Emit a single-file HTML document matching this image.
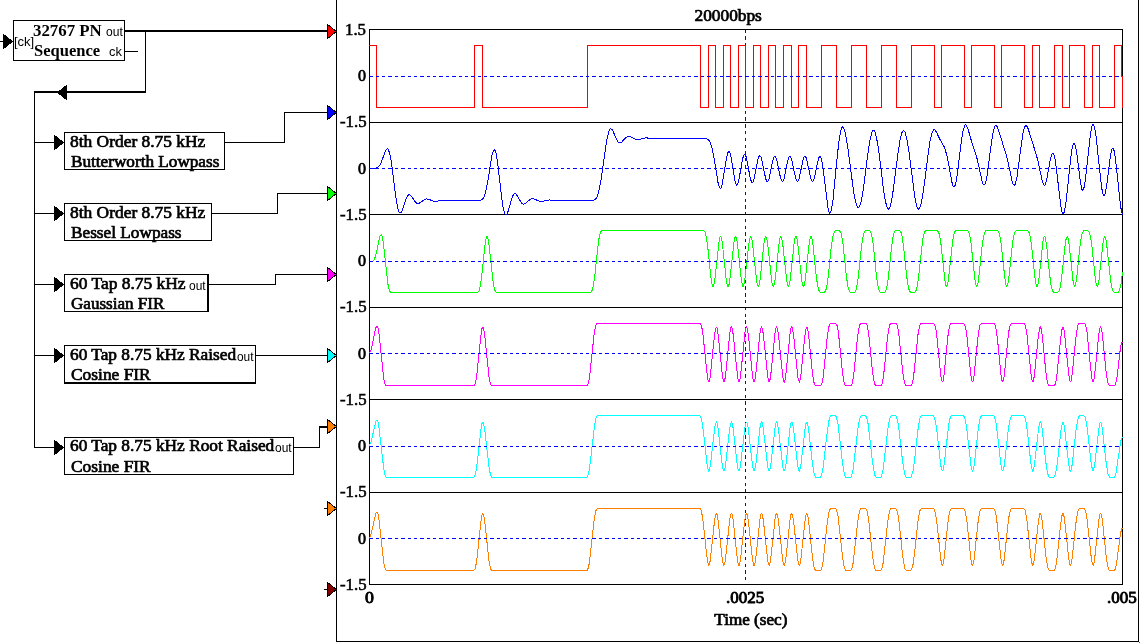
<!DOCTYPE html>
<html><head><meta charset="utf-8"><title>PN filters</title>
<style>html,body{margin:0;padding:0;background:#fff;overflow:hidden}svg{display:block}text{shape-rendering:auto}</style>
</head><body>
<svg width="1140" height="643" viewBox="0 0 1140 643" shape-rendering="crispEdges"><line x1="745.5" y1="29.6" x2="745.5" y2="584" stroke="#0000ff" stroke-width="1" stroke-dasharray="3.3 3.46"/>
<line x1="336.5" y1="0" x2="336.5" y2="642" stroke="#000" stroke-width="1"/>
<line x1="1138.5" y1="0" x2="1138.5" y2="642" stroke="#000" stroke-width="1"/>
<line x1="336" y1="641.5" x2="1139" y2="641.5" stroke="#000" stroke-width="1"/>
<rect x="1139" y="642" width="1" height="1" fill="#ff0000"/>
<rect x="369.5" y="29.5" width="753" height="555" fill="none" stroke="#000" stroke-width="1"/>
<line x1="369" y1="122.5" x2="1123" y2="122.5" stroke="#000" stroke-width="1"/>
<line x1="369" y1="214.5" x2="1123" y2="214.5" stroke="#000" stroke-width="1"/>
<line x1="369" y1="307.5" x2="1123" y2="307.5" stroke="#000" stroke-width="1"/>
<line x1="369" y1="399.5" x2="1123" y2="399.5" stroke="#000" stroke-width="1"/>
<line x1="369" y1="492.5" x2="1123" y2="492.5" stroke="#000" stroke-width="1"/>
<rect x="13.5" y="20.5" width="111" height="40" fill="none" stroke="#000" stroke-width="1"/>
<line x1="2.5" y1="41" x2="2.5" y2="42" stroke="#000" stroke-width="1"/>
<line x1="0" y1="41.5" x2="4" y2="41.5" stroke="#000" stroke-width="1"/>
<polygon points="3.5,34.5 12.5,41.5 3.5,48.5" fill="#000" stroke="#000" stroke-width="1"/>
<line x1="125" y1="30.5" x2="328" y2="30.5" stroke="#000" stroke-width="1"/>
<line x1="125" y1="31.5" x2="328" y2="31.5" stroke="#000" stroke-width="1"/>
<line x1="125" y1="51.5" x2="138" y2="51.5" stroke="#000" stroke-width="1"/>
<line x1="145.5" y1="30" x2="145.5" y2="93" stroke="#000" stroke-width="1"/>
<line x1="34" y1="91.5" x2="146" y2="91.5" stroke="#000" stroke-width="1"/>
<line x1="34" y1="92.5" x2="146" y2="92.5" stroke="#000" stroke-width="1"/>
<polygon points="66.5,85.5 57.5,92.5 66.5,99.5" fill="#000" stroke="#000" stroke-width="1"/>
<line x1="34.5" y1="91" x2="34.5" y2="448" stroke="#000" stroke-width="1"/>
<polygon points="327.5,24.5 336.5,31.5 327.5,38.5" fill="#ff0000" stroke="#000" stroke-width="1"/>
<rect x="64.5" y="132.5" width="160" height="37" fill="none" stroke="#000" stroke-width="1"/>
<line x1="35" y1="142.5" x2="55" y2="142.5" stroke="#000" stroke-width="1"/>
<polygon points="54.5,135.5 63.5,142.5 54.5,149.5" fill="#000" stroke="#000" stroke-width="1"/>
<line x1="225" y1="142.5" x2="285" y2="142.5" stroke="#000" stroke-width="1"/>
<line x1="284.5" y1="112" x2="284.5" y2="143" stroke="#000" stroke-width="1"/>
<line x1="284" y1="112.5" x2="328" y2="112.5" stroke="#000" stroke-width="1"/>
<polygon points="327.5,105.5 336.5,112.5 327.5,119.5" fill="#0000ff" stroke="#000" stroke-width="1"/>
<rect x="64.5" y="203.5" width="147" height="37" fill="none" stroke="#000" stroke-width="1"/>
<line x1="35" y1="213.5" x2="55" y2="213.5" stroke="#000" stroke-width="1"/>
<polygon points="54.5,206.5 63.5,213.5 54.5,220.5" fill="#000" stroke="#000" stroke-width="1"/>
<line x1="212" y1="213.5" x2="278" y2="213.5" stroke="#000" stroke-width="1"/>
<line x1="277.5" y1="193" x2="277.5" y2="214" stroke="#000" stroke-width="1"/>
<line x1="277" y1="193.5" x2="328" y2="193.5" stroke="#000" stroke-width="1"/>
<polygon points="327.5,186.5 336.5,193.5 327.5,200.5" fill="#00ff00" stroke="#000" stroke-width="1"/>
<rect x="64.5" y="274.5" width="144" height="37" fill="none" stroke="#000" stroke-width="1"/>
<line x1="35" y1="284.5" x2="55" y2="284.5" stroke="#000" stroke-width="1"/>
<polygon points="54.5,277.5 63.5,284.5 54.5,291.5" fill="#000" stroke="#000" stroke-width="1"/>
<line x1="209" y1="284.5" x2="276" y2="284.5" stroke="#000" stroke-width="1"/>
<line x1="275.5" y1="274" x2="275.5" y2="285" stroke="#000" stroke-width="1"/>
<line x1="275" y1="274.5" x2="328" y2="274.5" stroke="#000" stroke-width="1"/>
<polygon points="327.5,267.5 336.5,274.5 327.5,281.5" fill="#ff00ff" stroke="#000" stroke-width="1"/>
<rect x="64.5" y="345.5" width="191" height="37" fill="none" stroke="#000" stroke-width="1"/>
<line x1="35" y1="355.5" x2="55" y2="355.5" stroke="#000" stroke-width="1"/>
<polygon points="54.5,348.5 63.5,355.5 54.5,362.5" fill="#000" stroke="#000" stroke-width="1"/>
<line x1="256" y1="355.5" x2="328" y2="355.5" stroke="#000" stroke-width="1"/>
<polygon points="327.5,348.5 336.5,355.5 327.5,362.5" fill="#00ffff" stroke="#000" stroke-width="1"/>
<rect x="64.5" y="437.5" width="229" height="37" fill="none" stroke="#000" stroke-width="1"/>
<line x1="35" y1="447.5" x2="55" y2="447.5" stroke="#000" stroke-width="1"/>
<polygon points="54.5,440.5 63.5,447.5 54.5,454.5" fill="#000" stroke="#000" stroke-width="1"/>
<line x1="294" y1="447.5" x2="320" y2="447.5" stroke="#000" stroke-width="1"/>
<line x1="319.5" y1="426" x2="319.5" y2="448" stroke="#000" stroke-width="1"/>
<line x1="319" y1="426.5" x2="328" y2="426.5" stroke="#000" stroke-width="1"/>
<polygon points="327.5,419.5 336.5,426.5 327.5,433.5" fill="#ff8000" stroke="#000" stroke-width="1"/>
<line x1="319" y1="427.5" x2="328" y2="427.5" stroke="#000" stroke-width="1"/>
<line x1="207.5" y1="274" x2="207.5" y2="312" stroke="#000" stroke-width="1"/>
<line x1="64" y1="383.5" x2="256" y2="383.5" stroke="#000" stroke-width="1"/>
<polygon points="327.5,501.5 336.5,508.5 327.5,515.5" fill="#ff8000" stroke="#000" stroke-width="1"/>
<line x1="324" y1="508.5" x2="328" y2="508.5" stroke="#000" stroke-width="1"/>
<polygon points="327.5,582.5 336.5,589.5 327.5,596.5" fill="#800000" stroke="#000" stroke-width="1"/>
<line x1="324" y1="589.5" x2="328" y2="589.5" stroke="#000" stroke-width="1"/>
<text x="33" y="36" font-family="'Liberation Serif', serif" font-size="16" font-weight="bold" textLength="68.76" lengthAdjust="spacingAndGlyphs">32767 PN</text>
<text x="34" y="56" font-family="'Liberation Serif', serif" font-size="16" font-weight="bold" textLength="66.18" lengthAdjust="spacingAndGlyphs">Sequence</text>
<text x="106" y="36" font-family="'Liberation Sans', sans-serif" font-size="13" font-weight="normal" textLength="16.78" lengthAdjust="spacingAndGlyphs">out</text>
<text x="109" y="56" font-family="'Liberation Sans', sans-serif" font-size="13" font-weight="normal" textLength="12.84" lengthAdjust="spacingAndGlyphs">ck</text>
<text x="14" y="46" font-family="'Liberation Sans', sans-serif" font-size="13" font-weight="normal" textLength="20.23" lengthAdjust="spacingAndGlyphs">[ck]</text>
<text x="70" y="147" font-family="'Liberation Serif', serif" font-size="16" font-weight="normal" textLength="135.34" lengthAdjust="spacingAndGlyphs" stroke="#000" stroke-width="0.65">8th Order 8.75 kHz</text>
<text x="71" y="167" font-family="'Liberation Serif', serif" font-size="16" font-weight="normal" textLength="148.36" lengthAdjust="spacingAndGlyphs" stroke="#000" stroke-width="0.65">Butterworth Lowpass</text>
<text x="70" y="218" font-family="'Liberation Serif', serif" font-size="16" font-weight="normal" textLength="135.34" lengthAdjust="spacingAndGlyphs" stroke="#000" stroke-width="0.65">8th Order 8.75 kHz</text>
<text x="71" y="238" font-family="'Liberation Serif', serif" font-size="16" font-weight="normal" textLength="110.56" lengthAdjust="spacingAndGlyphs" stroke="#000" stroke-width="0.65">Bessel Lowpass</text>
<text x="70" y="289" font-family="'Liberation Serif', serif" font-size="16" font-weight="normal" textLength="115.57" lengthAdjust="spacingAndGlyphs" stroke="#000" stroke-width="0.65">60 Tap 8.75 kHz</text>
<text x="189" y="290" font-family="'Liberation Sans', sans-serif" font-size="13" font-weight="normal" textLength="16.67" lengthAdjust="spacingAndGlyphs">out</text>
<text x="71" y="309" font-family="'Liberation Serif', serif" font-size="16" font-weight="normal" textLength="93.34" lengthAdjust="spacingAndGlyphs" stroke="#000" stroke-width="0.65">Gaussian FIR</text>
<text x="70" y="360" font-family="'Liberation Serif', serif" font-size="16" font-weight="normal" textLength="166.07" lengthAdjust="spacingAndGlyphs" stroke="#000" stroke-width="0.65">60 Tap 8.75 kHz Raised</text>
<text x="237" y="361" font-family="'Liberation Sans', sans-serif" font-size="13" font-weight="normal" textLength="16.56" lengthAdjust="spacingAndGlyphs">out</text>
<text x="71" y="380" font-family="'Liberation Serif', serif" font-size="16" font-weight="normal" textLength="79.72" lengthAdjust="spacingAndGlyphs" stroke="#000" stroke-width="0.65">Cosine FIR</text>
<text x="70" y="451" font-family="'Liberation Serif', serif" font-size="16" font-weight="normal" textLength="204.24" lengthAdjust="spacingAndGlyphs" stroke="#000" stroke-width="0.65">60 Tap 8.75 kHz Root Raised</text>
<text x="275" y="452" font-family="'Liberation Sans', sans-serif" font-size="13" font-weight="normal" textLength="16.67" lengthAdjust="spacingAndGlyphs">out</text>
<text x="71" y="472" font-family="'Liberation Serif', serif" font-size="16" font-weight="normal" textLength="79.72" lengthAdjust="spacingAndGlyphs" stroke="#000" stroke-width="0.65">Cosine FIR</text>
<text x="694.5" y="21" font-family="'Liberation Serif', serif" font-size="16" font-weight="normal" textLength="67.37" lengthAdjust="spacingAndGlyphs" stroke="#000" stroke-width="0.7">20000bps</text>
<text x="345" y="35" font-family="'Liberation Serif', serif" font-size="16" font-weight="normal" textLength="20.96" lengthAdjust="spacingAndGlyphs" stroke="#000" stroke-width="0.55">1.5</text>
<text x="358" y="81" font-family="'Liberation Serif', serif" font-size="16" font-weight="normal" textLength="8" lengthAdjust="spacingAndGlyphs" stroke="#000" stroke-width="0.7">0</text>
<text x="340" y="127" font-family="'Liberation Serif', serif" font-size="16" font-weight="normal" textLength="26.54" lengthAdjust="spacingAndGlyphs" stroke="#000" stroke-width="0.55">-1.5</text>
<text x="358" y="174" font-family="'Liberation Serif', serif" font-size="16" font-weight="normal" textLength="8" lengthAdjust="spacingAndGlyphs" stroke="#000" stroke-width="0.7">0</text>
<text x="340" y="220" font-family="'Liberation Serif', serif" font-size="16" font-weight="normal" textLength="26.54" lengthAdjust="spacingAndGlyphs" stroke="#000" stroke-width="0.55">-1.5</text>
<text x="358" y="266" font-family="'Liberation Serif', serif" font-size="16" font-weight="normal" textLength="8" lengthAdjust="spacingAndGlyphs" stroke="#000" stroke-width="0.7">0</text>
<text x="340" y="312" font-family="'Liberation Serif', serif" font-size="16" font-weight="normal" textLength="26.54" lengthAdjust="spacingAndGlyphs" stroke="#000" stroke-width="0.55">-1.5</text>
<text x="358" y="359" font-family="'Liberation Serif', serif" font-size="16" font-weight="normal" textLength="8" lengthAdjust="spacingAndGlyphs" stroke="#000" stroke-width="0.7">0</text>
<text x="340" y="405" font-family="'Liberation Serif', serif" font-size="16" font-weight="normal" textLength="26.54" lengthAdjust="spacingAndGlyphs" stroke="#000" stroke-width="0.55">-1.5</text>
<text x="358" y="451" font-family="'Liberation Serif', serif" font-size="16" font-weight="normal" textLength="8" lengthAdjust="spacingAndGlyphs" stroke="#000" stroke-width="0.7">0</text>
<text x="340" y="497" font-family="'Liberation Serif', serif" font-size="16" font-weight="normal" textLength="26.54" lengthAdjust="spacingAndGlyphs" stroke="#000" stroke-width="0.55">-1.5</text>
<text x="358" y="544" font-family="'Liberation Serif', serif" font-size="16" font-weight="normal" textLength="8" lengthAdjust="spacingAndGlyphs" stroke="#000" stroke-width="0.7">0</text>
<text x="340" y="590" font-family="'Liberation Serif', serif" font-size="16" font-weight="normal" textLength="26.54" lengthAdjust="spacingAndGlyphs" stroke="#000" stroke-width="0.55">-1.5</text>
<text x="365" y="603" font-family="'Liberation Serif', serif" font-size="17" font-weight="normal" textLength="8.91" lengthAdjust="spacingAndGlyphs" stroke="#000" stroke-width="0.9">0</text>
<text x="726" y="603" font-family="'Liberation Serif', serif" font-size="17" font-weight="normal" textLength="38.25" lengthAdjust="spacingAndGlyphs" stroke="#000" stroke-width="0.9">.0025</text>
<text x="1107" y="603" font-family="'Liberation Serif', serif" font-size="17" font-weight="normal" textLength="29.75" lengthAdjust="spacingAndGlyphs" stroke="#000" stroke-width="0.9">.005</text>
<text x="714.3" y="625" font-family="'Liberation Serif', serif" font-size="16" font-weight="normal" textLength="73.11" lengthAdjust="spacingAndGlyphs" stroke="#000" stroke-width="0.7">Time (sec)</text>
<polyline fill="none" stroke="#ff0000" stroke-width="1" points="369.12,45.5 376.65,45.5 376.65,107.5 474.6,107.5 474.6,45.5 482.13,45.5 482.13,107.5 587.61,107.5 587.61,45.5 700.62,45.5 700.62,107.5 708.15,107.5 708.15,45.5 715.68,45.5 715.68,107.5 723.22,107.5 723.22,45.5 730.75,45.5 730.75,107.5 738.29,107.5 738.29,45.5 745.82,45.5 745.82,107.5 753.35,107.5 753.35,45.5 760.89,45.5 760.89,107.5 768.42,107.5 768.42,45.5 775.96,45.5 775.96,107.5 783.49,107.5 783.49,45.5 791.02,45.5 791.02,107.5 798.56,107.5 798.56,45.5 806.09,45.5 806.09,107.5 821.16,107.5 821.16,45.5 836.23,45.5 836.23,107.5 851.3,107.5 851.3,45.5 866.36,45.5 866.36,107.5 881.43,107.5 881.43,45.5 896.5,45.5 896.5,107.5 911.57,107.5 911.57,45.5 934.17,45.5 934.17,107.5 941.7,107.5 941.7,45.5 964.31,45.5 964.31,107.5 971.84,107.5 971.84,45.5 994.44,45.5 994.44,107.5 1001.98,107.5 1001.98,45.5 1024.58,45.5 1024.58,107.5 1032.11,107.5 1032.11,45.5 1039.65,45.5 1039.65,107.5 1054.71,107.5 1054.71,45.5 1062.25,45.5 1062.25,107.5 1069.78,107.5 1069.78,45.5 1084.85,45.5 1084.85,107.5 1092.38,107.5 1092.38,45.5 1099.92,45.5 1099.92,107.5 1114.99,107.5 1114.99,45.5 1121.92,45.5 1121.92,76.5 1122.82,76.5 1122.82,107.5"/>
<polyline fill="none" stroke="#0000ff" stroke-width="1" points="369.12,168.5 375.6,168.32 377.11,167.83 378.46,166.85 379.82,165.1 381.02,162.78 385.85,150.13 387.05,148.74 387.65,148.77 388.26,149.36 389.76,153.51 391.27,161.36 395.49,194.48 397.15,205.18 398.65,211.1 399.41,212.54 400.31,212.98 401.21,212.19 402.12,210.4 406.64,197.4 407.84,195.45 409.05,194.7 409.95,194.9 411.01,195.8 415.68,202.33 416.73,203.14 417.79,203.48 419.6,203.04 424.12,199.71 426.53,198.92 428.34,199.14 432.86,200.91 435.42,201.34 443.71,200.06 452.6,200.74 461.34,200.37 471.88,200.56 479.57,200.39 481.83,199.69 482.88,198.71 483.94,196.98 485.75,191.59 487.55,182.64 491.92,155.68 493.28,150.86 493.88,149.89 494.49,149.74 495.09,150.46 495.84,152.57 497.35,160.5 501.57,196.86 503.07,207.36 504.43,213.16 505.18,214.72 505.94,215.15 506.84,214.31 507.9,211.85 512.27,196.87 513.47,194.5 514.68,193.57 515.58,193.78 516.64,194.83 521.31,202.67 522.51,203.75 523.57,204.09 525.53,203.37 530.05,199.37 532.16,198.61 533.96,198.86 538.48,200.98 541.05,201.52 549.48,199.96 558.52,200.79 567.11,200.35 591.37,200.5 593.63,200.28 595.14,199.52 596.19,198.33 597.25,196.32 599.21,189.65 601.17,178.68 606.89,139.07 608.85,131.19 609.76,129.38 610.81,128.7 611.71,129.2 612.77,130.76 617.29,140.81 618.5,142.32 619.7,142.91 620.6,142.77 621.66,142.1 626.33,137.14 628.59,136.25 630.55,136.7 635.07,139.21 637.18,139.68 639.29,139.46 643.96,138.1 646.22,137.86 654.51,138.83 663.55,138.32 672.29,138.6 703.18,138.5 706.04,138.62 707.7,139.15 709.05,140.36 710.11,142.11 712.07,148.03 714.03,157.82 717.94,182.18 719.15,186.93 720.2,188.58 721.11,187.86 722.16,184.59 726.68,157.04 727.74,152.93 728.79,151.34 729.7,152.18 730.6,154.96 734.97,180.55 736.03,184.27 736.93,185.25 737.68,184.41 738.59,181.54 742.51,159.36 743.56,155.52 744.46,154.13 744.92,154.17 745.37,154.7 746.27,157.11 750.34,178.38 751.4,181.86 752.3,182.83 753.05,182.12 753.96,179.55 757.72,160.4 758.78,156.93 759.68,155.71 760.59,156.3 761.49,158.6 765.56,178.2 766.46,180.89 767.37,181.82 768.12,181.15 769.02,178.72 772.79,160.54 773.7,157.61 774.6,156.23 775.05,156.19 775.5,156.58 776.56,159.1 780.48,177.67 781.53,180.81 782.44,181.64 783.19,180.91 784.09,178.44 787.86,160.4 788.76,157.54 789.67,156.22 790.57,156.63 791.48,158.71 795.54,177.79 796.6,180.89 797.5,181.68 798.26,180.92 799.16,178.42 802.78,160.93 803.68,157.85 804.43,156.42 805.04,156.12 805.49,156.41 806.54,158.7 810.61,177.84 811.67,180.94 812.57,181.72 813.48,180.65 814.38,177.87 818.3,159.25 819.2,156.97 819.65,156.48 820.11,156.47 820.71,157.22 821.46,159.42 822.82,166.56 827.79,206.73 829,211.9 829.6,213.04 830.05,213.2 830.65,212.49 831.41,210.1 832.91,200.75 837.43,154.43 839.39,138.06 841.05,129.63 841.8,127.69 842.71,126.91 843.46,127.49 844.36,129.54 846.17,137.42 848.28,151.22 853.71,192.33 855.52,201.76 857.17,206.6 858.23,207.61 859.28,206.94 860.34,204.6 861.54,199.92 863.65,187.16 867.72,154.9 869.68,141.73 871.64,133.07 872.69,130.79 873.6,130.26 874.5,131.08 875.56,133.69 877.51,142.89 879.62,157.68 883.39,188.62 885.2,200.32 886.86,206.99 887.76,208.74 888.51,209.13 889.42,208.34 890.32,206.18 892.28,197.2 898.01,153.06 900.12,139.68 901.92,132.63 902.83,130.95 903.58,130.53 904.34,131.01 905.24,132.76 907.05,139.88 909.16,153.26 914.88,197.55 916.84,206.4 917.75,208.43 918.65,209.08 919.4,208.56 920.31,206.68 921.96,199.86 923.77,188.19 929.5,143.88 931.61,133.82 932.51,131.37 933.57,129.92 934.17,129.72 934.77,129.92 936.13,131.55 940.2,139.95 943.81,146.11 945.17,149.29 947.58,158.5 951.95,182.26 953,185.75 953.61,186.74 954.06,186.95 954.66,186.46 955.42,184.61 956.77,177.95 961.29,141.76 962.95,131.3 964.61,125.69 965.36,124.88 966.26,125.22 968.07,129.23 971.84,142.46 976.66,157.02 982.24,181.65 983.29,184.35 984.2,185.05 984.95,184.32 985.55,182.83 986.91,176.66 991.43,142.49 993.09,132.25 994.59,126.83 995.35,125.67 996.25,125.58 997.3,127 998.36,129.67 1006.04,154.35 1008.15,162.5 1012.07,180.84 1013.13,183.98 1014.18,185.18 1014.93,184.63 1015.54,183.3 1017.04,176.58 1021.56,142.38 1023.22,132.2 1024.58,127.19 1025.33,125.85 1026.08,125.51 1027.14,126.52 1028.35,129.31 1036.18,154.31 1038.29,162.46 1042.06,180.27 1042.96,183.27 1043.87,184.97 1044.47,185.24 1045.07,184.78 1046.43,181.07 1050.04,161.18 1051.4,155.41 1052.6,153.21 1053.21,153.39 1053.66,154.13 1054.86,158.53 1056.07,166.05 1060.74,205.61 1061.95,211.53 1062.55,213.1 1063.15,213.67 1063.75,213.21 1064.51,211.19 1065.86,203.79 1070.69,158.37 1071.89,149.75 1072.95,144.99 1073.7,143.48 1074.3,143.47 1074.91,144.53 1075.66,147.24 1077.01,155.38 1080.78,184.45 1081.99,189.39 1082.59,190.24 1083.04,190.11 1084.1,187.25 1085.3,179.95 1090.58,132.76 1091.93,126.08 1092.53,124.66 1093.14,124.25 1093.74,124.86 1094.49,127.03 1095.85,134.52 1100.97,182.03 1102.03,189.57 1102.93,193.74 1103.53,195.18 1104.14,195.49 1104.74,194.68 1105.49,192.15 1106.85,184.01 1110.62,154.69 1111.97,148.99 1112.58,148.06 1113.18,148.22 1114.23,151.1 1115.44,158.11 1120.11,202.27 1121.31,210.48 1122.52,214.94"/>
<polyline fill="none" stroke="#00ff00" stroke-width="1" points="369.12,261.5 372.74,261.23 373.64,260.55 374.54,259.04 376.05,254.15 379.52,237.78 380.42,235.24 381.17,234.63 381.78,235.41 382.23,236.81 383.28,242.8 387.8,283.53 389.16,289.66 389.91,291.41 390.82,292.42 391.87,292.7 395.04,292.41 477.31,292.41 478.36,291.82 479.12,290.59 480.47,285.29 481.83,275.18 485.14,243.82 486.2,238.05 486.65,236.85 487.1,236.53 488.01,238.56 488.91,243.94 493.28,283.57 494.79,290.11 495.54,291.65 496.44,292.49 589.87,292.47 591.07,292.09 591.83,291.2 593.33,286.11 594.69,276.52 598.61,240.47 600.11,233.36 601.02,231.35 601.92,230.49 602.82,230.29 605.99,230.59 702.73,230.52 703.93,230.82 704.84,231.8 706.34,236.89 707.7,246.48 711.01,278.06 712.07,284.37 712.97,286.46 713.42,286.19 713.88,285.02 714.93,279.06 719,241.7 719.9,237.48 720.66,236.49 721.41,237.97 722.31,242.86 726.08,278.14 726.99,283.78 727.89,286.4 728.34,286.41 728.79,285.52 729.7,281.17 733.77,243.74 734.82,237.98 735.27,236.8 735.72,236.5 736.48,237.98 737.38,242.86 741,276.95 741.9,283.03 742.66,285.9 743.11,286.5 743.56,286.21 744.61,282.11 748.83,243.74 749.89,237.98 750.34,236.8 750.79,236.5 751.7,238.57 752.6,243.96 756.67,281.29 757.72,285.9 758.18,286.5 758.63,286.21 759.38,283.75 760.29,277.86 764.05,242.69 764.96,237.98 765.41,236.8 765.86,236.5 766.76,238.57 767.67,243.96 771.74,281.29 772.64,285.51 773.09,286.4 773.55,286.41 774.45,283.75 775.35,277.86 779.12,242.69 780.02,237.98 780.48,236.8 780.93,236.5 781.83,238.57 782.74,243.96 786.65,280.31 787.56,285.02 788.01,286.2 788.46,286.5 789.37,284.43 790.27,279.04 794.19,242.69 795.09,237.98 795.54,236.8 796,236.5 796.9,238.57 797.8,243.96 801.72,280.31 802.63,285.02 803.08,286.2 803.53,286.5 804.43,284.43 805.34,279.04 809.26,242.69 810.16,237.98 810.61,236.8 811.06,236.5 811.97,238.57 812.87,243.96 816.04,274.45 817.54,285.3 819.2,291.14 820.26,292.4 821.61,292.68 823.87,292.34 824.78,291.89 825.68,290.54 826.43,288.2 828.09,277.83 830.95,249.95 832.46,238.61 833.37,234.36 834.27,231.86 835.32,230.57 836.68,230.3 838.94,230.66 839.84,231.12 840.75,232.47 841.5,234.8 843.16,245.17 846.02,273.05 847.53,284.39 848.43,288.64 849.34,291.14 850.39,292.43 851.75,292.7 854.01,292.34 854.91,291.88 855.82,290.53 856.57,288.2 858.23,277.83 861.09,249.95 862.6,238.61 863.5,234.36 864.41,231.86 865.46,230.57 866.82,230.3 869.08,230.66 869.98,231.12 870.88,232.47 871.64,234.8 873.3,245.17 876.16,273.05 877.66,284.39 878.57,288.64 879.47,291.14 880.53,292.43 881.88,292.7 884.14,292.34 885.05,291.88 885.95,290.53 886.71,288.2 888.36,277.83 891.23,249.95 892.73,238.61 893.64,234.36 894.54,231.86 895.6,230.57 896.95,230.3 899.21,230.66 900.12,231.12 901.02,232.47 901.77,234.8 903.43,245.17 906.29,273.05 907.8,284.39 908.71,288.64 909.61,291.14 910.66,292.43 911.87,292.71 914.28,292.34 915.34,291.74 916.24,290.17 916.99,287.56 918.5,277.83 922.57,240.46 924.07,233.35 924.98,231.35 925.88,230.49 926.79,230.29 929.65,230.58 936.73,230.56 937.94,231.19 938.84,232.79 939.9,236.89 940.95,243.95 944.87,280.23 945.77,284.95 946.22,286.15 946.68,286.47 947.58,284.44 948.48,279.06 952.85,239.43 954.21,233.32 954.96,231.59 955.72,230.7 956.92,230.31 966.87,230.56 968.07,231.19 968.98,232.79 970.03,236.89 971.09,243.95 975,280.23 975.91,284.95 976.36,286.15 976.81,286.47 977.57,285.02 978.47,280.16 982.24,244.73 983.29,237.69 984.5,232.89 985.55,230.97 986.76,230.33 996.55,230.51 998.21,231.19 999.41,233.68 1000.62,239.55 1004.84,278.06 1005.89,284.37 1006.5,286.15 1006.95,286.47 1007.7,285.02 1008.61,280.16 1012.37,244.73 1013.43,237.69 1014.48,233.32 1015.54,231.15 1016.74,230.36 1026.54,230.51 1027.89,230.82 1028.8,231.81 1030.3,236.89 1031.66,246.48 1034.97,278.06 1036.03,284.37 1036.93,286.46 1037.39,286.19 1037.84,285.02 1038.89,279.06 1042.96,241.7 1044.02,237.09 1044.62,236.49 1045.07,237.08 1046.58,245.14 1049.59,274.45 1050.95,284.46 1051.85,288.68 1052.76,291.14 1053.81,292.4 1055.02,292.69 1057.43,292.34 1058.48,291.74 1059.39,290.18 1060.29,286.87 1061.8,276.54 1065.11,244.93 1066.17,238.62 1067.07,236.53 1067.52,236.81 1067.97,237.98 1069.03,243.94 1073.1,281.3 1074.15,285.91 1074.75,286.51 1075.21,285.92 1076.71,277.86 1079.73,248.55 1081.08,238.54 1081.99,234.32 1082.89,231.86 1083.95,230.6 1085.15,230.31 1087.56,230.66 1088.62,231.26 1089.52,232.82 1090.43,236.13 1091.93,246.46 1095.25,278.07 1096.15,283.71 1097.06,286.36 1097.51,286.39 1097.96,285.51 1098.86,281.19 1102.78,244.86 1103.84,238.55 1104.74,236.49 1105.49,237.48 1106.4,241.83 1110.47,279.43 1111.67,286.81 1113.03,291.14 1114.08,292.4 1115.29,292.69 1118.15,292.18 1119.36,290.86 1120.86,285.29 1122.52,272.41"/>
<polyline fill="none" stroke="#ff00ff" stroke-width="1" points="369.12,353.27 370.17,352.04 371.23,349.3 375.45,329.36 376.35,326.52 377.11,325.89 378.16,328.52 379.22,335.23 383.59,377.59 384.64,382.95 385.85,385.29 386.75,385.5 473.84,385.47 474.6,385 475.2,383.86 476.4,378.57 480.92,335.23 481.98,328.68 482.43,327.32 482.88,326.97 483.79,329.35 484.84,336.46 489.06,377.59 490.27,383.44 490.87,384.79 491.47,385.38 586.7,385.49 587.61,385 588.21,383.86 589.41,378.57 594.24,332.95 595.59,325.89 596.19,324.4 596.95,323.61 699.71,323.51 700.62,323.97 701.37,325.43 702.73,331.9 706.94,372.99 707.85,379.26 708.6,381.68 708.9,381.8 709.36,381.06 710.26,376.51 714.33,336.46 715.38,329.35 716.29,326.97 716.74,327.32 717.19,328.68 718.25,335.23 722.46,376.51 723.37,381.06 723.82,381.8 724.27,381.43 725.03,378.44 725.93,371.68 729.7,334.06 730.6,328.68 731.05,327.32 731.51,326.97 732.41,329.35 733.46,336.46 737.53,376.51 738.29,380.58 739.04,381.8 739.94,379.26 740.85,372.99 744.92,332.95 745.82,328.12 746.57,326.97 747.48,329.35 748.53,336.46 752.6,376.51 753.35,380.58 754.11,381.8 755.01,379.26 755.92,372.99 759.98,332.95 760.89,328.12 761.64,326.97 762.55,329.35 763.6,336.46 767.67,376.51 768.42,380.58 769.18,381.8 770.08,379.26 770.98,372.99 775.05,332.95 775.96,328.12 776.71,326.97 777.61,329.35 778.67,336.46 782.74,376.51 783.49,380.58 784.24,381.8 785.15,379.26 786.05,372.99 790.12,332.95 791.02,328.12 791.78,326.97 792.68,329.35 793.74,336.46 797.8,376.51 798.56,380.58 799.31,381.8 800.22,379.26 801.12,372.99 805.19,332.95 806.09,328.12 806.85,326.97 807.75,329.35 808.65,335.23 812.27,371.68 813.78,381.77 814.53,384.23 815.43,385.38 820.26,385.49 821.16,385 821.76,383.86 823.12,377.59 827.19,337.74 828.84,327 829.6,324.69 830.5,323.61 835.32,323.51 836.23,323.97 836.98,325.43 838.34,331.9 842.41,371.68 844.06,382.39 844.82,384.54 845.57,385.38 850.54,385.49 851.45,385 852.05,383.86 853.41,377.59 857.47,337.74 859.13,327 859.88,324.69 860.79,323.61 865.46,323.51 866.36,323.97 867.12,325.43 868.47,331.9 872.54,371.68 874.2,382.39 874.95,384.54 875.71,385.38 880.53,385.49 881.43,385 882.03,383.86 883.39,377.59 887.46,337.74 889.12,327 889.87,324.69 890.77,323.61 895.6,323.51 896.5,323.97 897.25,325.43 898.61,331.9 902.68,371.68 904.34,382.39 905.09,384.54 905.84,385.38 910.66,385.49 911.57,385 912.17,383.86 913.38,378.57 918.05,334.06 919.4,326.42 920.01,324.69 920.76,323.7 933.42,323.52 934.17,323.97 934.92,325.43 935.83,329.15 936.88,336.46 940.8,375.42 941.55,379.97 942.31,381.8 943.06,380.58 943.96,375.42 947.88,336.46 948.94,329.15 949.99,325.03 950.59,323.97 951.5,323.51 963.25,323.5 964.31,323.97 965.51,327 966.57,332.95 970.79,374.24 971.69,379.97 972.14,381.43 972.59,381.8 973.35,379.97 974.1,375.42 978.02,336.46 979.07,329.15 979.98,325.43 980.73,323.97 981.48,323.52 993.54,323.51 994.44,323.97 995.04,325.03 996.4,330.92 997.76,341.89 1000.92,374.24 1001.83,379.97 1002.28,381.43 1002.73,381.8 1003.48,379.97 1004.24,375.42 1008.15,336.46 1009.21,329.15 1010.11,325.43 1010.87,323.97 1011.62,323.52 1023.67,323.51 1024.58,323.97 1025.33,325.43 1026.69,331.9 1030.91,372.99 1031.66,378.44 1032.41,381.43 1032.87,381.8 1033.32,381.06 1034.22,376.51 1038.44,335.23 1039.5,328.68 1039.95,327.32 1040.4,326.97 1041.3,329.35 1042.21,335.23 1045.82,371.68 1047.33,381.77 1048.08,384.23 1048.99,385.38 1053.66,385.5 1054.56,385.17 1055.32,383.86 1056.67,377.59 1060.74,337.74 1061.65,330.98 1062.55,327.32 1063,326.97 1063.45,327.66 1064.36,331.92 1068.73,374.24 1069.63,379.97 1070.08,381.43 1070.54,381.8 1071.29,379.97 1072.19,374.24 1075.66,339.08 1077.32,327.65 1078.07,325.03 1078.97,323.7 1083.95,323.51 1084.85,323.97 1085.6,325.43 1086.96,331.9 1091.18,372.99 1091.93,378.44 1092.69,381.43 1093.14,381.8 1093.59,381.06 1094.49,376.51 1098.71,335.23 1099.77,328.68 1100.22,327.32 1100.67,326.97 1101.58,329.35 1102.48,335.23 1106.1,371.68 1107.6,381.77 1108.36,384.23 1109.26,385.38 1113.93,385.5 1114.68,385.29 1115.29,384.54 1116.34,381.07 1117.4,374.25 1120.41,348.08 1121.47,343.25 1121.92,342.36 1122.52,342.25"/>
<polyline fill="none" stroke="#00ffff" stroke-width="1" points="369.12,445.8 370.33,443.78 371.53,440.07 375.6,422.07 376.35,420.27 376.96,419.99 378.01,422.39 379.06,428.43 383.74,468.76 385.09,474.97 385.69,476.4 386.45,477.28 387.5,477.5 473.24,477.46 474.14,476.86 474.9,475.39 476.25,469.66 477.61,459.8 481.08,428.5 481.98,423.59 482.43,422.37 482.88,422.06 483.79,424.19 484.69,429.59 489.21,468.76 490.57,474.97 491.32,476.65 492.07,477.36 586.1,477.48 587,477.03 587.76,475.77 589.11,470.51 590.47,461.07 594.54,425.2 595.89,418.51 596.65,416.6 597.4,415.72 598.45,415.5 698.96,415.5 700.01,415.97 700.77,417.23 702.27,423.34 703.63,433.2 706.94,463.41 707.85,468.81 708.75,470.94 709.51,469.92 710.41,465.52 714.48,429.59 715.38,424.19 716.29,422.06 717.04,423.08 717.94,427.48 722.01,463.41 722.92,468.81 723.82,470.94 724.57,469.92 725.48,465.52 729.55,429.59 730.45,424.19 731.35,422.06 732.11,423.08 733.01,427.48 737.08,463.41 737.98,468.81 738.74,470.84 739.19,470.84 739.64,469.92 740.55,465.52 744.61,429.59 745.52,424.19 746.42,422.06 746.87,422.37 747.33,423.59 748.23,428.5 752.6,466.46 753.66,470.63 754.11,470.94 754.56,470.32 756.07,462.26 759.83,428.5 760.74,423.59 761.49,422.06 761.94,422.37 762.39,423.59 763.3,428.5 767.67,466.46 768.57,470.32 769.02,470.94 769.33,470.84 770.08,468.81 770.98,463.41 775.05,427.48 775.81,423.59 776.56,422.06 777.01,422.37 777.46,423.59 778.37,428.5 782.74,466.46 783.64,470.32 784.09,470.94 784.39,470.84 785.15,468.81 786.05,463.41 790.12,427.48 791.02,423.08 791.78,422.06 792.68,424.19 793.59,429.59 797.65,465.52 798.56,469.92 799.31,470.94 800.22,468.81 801.12,463.41 805.19,427.48 806.09,423.08 806.85,422.06 807.6,423.59 808.5,428.5 812.27,462.3 813.93,472.74 814.83,475.77 815.74,477.17 816.49,477.48 819.5,477.5 820.56,477.03 821.31,475.77 822.97,468.76 827.34,430.7 829.15,419.63 829.9,417.23 830.8,415.83 831.56,415.52 834.57,415.5 835.63,415.97 836.38,417.23 838.04,424.24 842.41,462.3 844.21,473.37 844.97,475.77 845.87,477.17 846.62,477.48 849.79,477.5 850.84,477.03 851.6,475.77 853.25,468.76 857.62,430.7 859.43,419.63 860.19,417.23 861.09,415.83 861.84,415.52 864.71,415.5 865.76,415.97 866.51,417.23 868.17,424.24 872.54,462.3 874.35,473.37 875.1,475.77 876.01,477.17 876.76,477.48 879.77,477.5 880.83,477.03 881.58,475.77 883.24,468.76 887.61,430.7 889.42,419.63 890.17,417.23 891.08,415.83 891.83,415.52 894.84,415.5 895.9,415.97 896.65,417.23 898.31,424.24 902.68,462.3 904.49,473.37 905.24,475.77 906.14,477.17 906.9,477.48 909.91,477.5 910.81,477.17 911.57,476.11 913.07,470.51 914.43,461.07 918.5,425.2 919.86,418.51 920.61,416.6 921.36,415.72 922.27,415.5 932.66,415.52 933.72,416.14 934.47,417.61 935.53,421.69 936.58,428.36 940.65,464.5 941.55,469.41 942.31,470.94 942.76,470.63 943.21,469.41 944.11,464.5 948.79,424.24 949.99,418.51 951.2,415.97 952.25,415.5 962.8,415.52 963.85,416.14 964.61,417.61 965.66,421.69 966.72,428.36 970.94,465.52 971.84,469.92 972.59,470.94 973.35,469.41 974.25,464.5 978.32,428.36 979.37,421.69 980.43,417.61 981.18,416.14 982.24,415.52 992.63,415.5 993.54,415.72 994.29,416.6 994.89,418.03 996.25,424.24 1000.92,464.5 1001.83,469.41 1002.28,470.63 1002.73,470.94 1003.48,469.41 1004.39,464.5 1008.46,428.36 1009.51,421.69 1010.56,417.61 1011.32,416.14 1012.22,415.54 1022.92,415.5 1023.98,415.97 1024.73,417.23 1026.24,423.34 1027.59,433.2 1030.76,462.26 1032.26,470.32 1032.71,470.94 1033.17,470.63 1034.22,466.46 1038.59,428.5 1039.5,423.59 1039.95,422.37 1040.4,422.06 1041.15,423.59 1042.06,428.5 1045.82,462.3 1047.48,472.74 1048.39,475.77 1049.29,477.17 1050.04,477.48 1053.06,477.5 1054.11,477.03 1054.86,475.77 1056.37,469.66 1057.73,459.8 1060.89,430.74 1062.4,422.68 1062.85,422.06 1063.3,422.37 1064.36,426.54 1068.73,464.5 1069.63,469.41 1070.08,470.63 1070.54,470.94 1071.29,469.41 1072.19,464.5 1075.96,430.7 1077.62,420.26 1078.52,417.23 1079.43,415.83 1080.18,415.52 1083.19,415.5 1084.25,415.97 1085,417.23 1086.51,423.34 1087.86,433.2 1091.03,462.26 1092.53,470.32 1092.99,470.94 1093.44,470.63 1094.49,466.46 1098.86,428.5 1099.77,423.59 1100.22,422.37 1100.67,422.06 1101.42,423.59 1102.33,428.5 1106.1,462.3 1107.75,472.74 1108.66,475.77 1109.56,477.17 1110.31,477.48 1113.18,477.5 1114.08,477.28 1114.84,476.4 1116.04,472.74 1120.41,443.08 1121.47,438.53 1122.52,436.83"/>
<polyline fill="none" stroke="#ff8000" stroke-width="1" points="369.12,538.07 370.17,536.62 371.23,533.79 375.45,514.85 376.2,512.57 376.96,511.81 377.56,512.58 378.01,514.01 379.06,520.06 383.74,562.49 384.94,568.15 386.15,570.28 387.05,570.5 473.54,570.47 474.29,570.01 475.05,568.59 476.25,563.42 477.46,554.38 480.92,521.19 481.98,514.97 482.43,513.69 482.88,513.36 483.79,515.6 484.69,521.19 489.21,562.49 490.42,568.15 491.02,569.58 491.77,570.37 586.4,570.49 587.15,570.16 587.91,568.97 589.26,563.42 594.24,518.95 595.59,511.68 596.35,509.62 597.1,508.71 598,508.5 699.41,508.51 700.31,508.96 701.07,510.29 702.57,516.93 706.94,556.96 707.85,562.93 708.6,565.2 708.9,565.31 709.36,564.62 710.26,560.32 714.48,521.19 715.38,515.6 716.29,513.36 716.74,513.69 717.19,514.97 718.09,520.07 722.01,556.96 722.92,562.93 723.67,565.2 723.97,565.31 724.42,564.62 725.33,560.32 729.55,521.19 730.45,515.6 731.35,513.36 731.81,513.69 732.26,514.97 733.16,520.07 737.08,556.96 737.83,562.15 738.59,564.96 739.04,565.31 739.49,564.62 740.4,560.32 744.61,521.19 745.67,514.97 746.12,513.69 746.57,513.36 747.48,515.6 748.38,521.19 752.6,560.32 753.5,564.62 753.96,565.31 754.26,565.2 755.01,562.93 755.92,556.96 759.83,520.07 760.74,514.97 761.19,513.69 761.64,513.36 762.55,515.6 763.45,521.19 767.67,560.32 768.42,564.16 769.18,565.31 769.93,563.6 770.83,558.16 775.05,519.02 775.96,514.44 776.71,513.36 777.61,515.6 778.52,521.19 782.74,560.32 783.49,564.16 784.24,565.31 785,563.6 785.9,558.16 790.12,519.02 791.02,514.44 791.78,513.36 792.68,515.6 793.59,521.19 797.8,560.32 798.56,564.16 799.31,565.31 800.06,563.6 800.97,558.16 805.19,519.02 806.09,514.44 806.85,513.36 807.75,515.6 808.65,521.19 812.27,555.7 813.93,566.49 814.68,568.97 815.58,570.28 819.8,570.5 820.71,570.16 821.46,568.97 822.97,562.49 827.19,523.61 829,512.26 829.75,509.93 830.65,508.71 835.02,508.51 835.93,508.96 836.68,510.29 838.19,516.93 842.41,555.7 844.06,566.49 844.82,568.97 845.72,570.28 850.09,570.5 850.99,570.16 851.75,568.97 853.25,562.49 857.47,523.61 859.28,512.26 860.04,509.93 860.94,508.71 865.16,508.51 866.06,508.96 866.82,510.29 868.32,516.93 872.54,555.7 874.2,566.49 874.95,568.97 875.86,570.28 880.08,570.5 880.98,570.16 881.73,568.97 883.24,562.49 887.46,523.61 889.27,512.26 890.02,509.93 890.92,508.71 895.14,508.5 896.2,508.96 896.95,510.29 898.46,516.93 902.68,555.7 904.34,566.49 905.09,568.97 905.99,570.28 910.21,570.5 911.12,570.16 911.72,569.3 913.07,564.28 914.43,554.38 918.2,518.95 919.55,511.68 920.31,509.62 921.06,508.71 932.96,508.51 933.87,508.96 934.62,510.29 935.68,514.33 936.88,522.37 940.8,559.28 941.55,563.6 942.31,565.31 942.76,564.96 943.21,563.6 944.11,558.16 948.48,517.91 949.69,511.68 950.9,508.96 951.95,508.5 963.1,508.51 964,508.96 964.76,510.29 965.81,514.33 967.02,522.37 970.94,559.28 971.84,564.16 972.59,565.31 973.35,563.6 974.1,559.28 978.02,522.37 979.22,514.33 980.28,510.29 981.03,508.96 981.94,508.51 993.84,508.71 994.59,509.62 995.2,511.16 996.4,516.93 1000.92,558.16 1001.83,563.6 1002.28,564.96 1002.73,565.31 1003.48,563.6 1004.24,559.28 1008.15,522.37 1009.21,515.14 1010.26,510.7 1011.02,509.14 1011.92,508.53 1023.22,508.5 1024.28,508.96 1025.03,510.29 1026.54,516.93 1030.91,556.96 1031.66,562.15 1032.41,564.96 1032.87,565.31 1033.32,564.62 1034.22,560.32 1038.44,521.19 1039.5,514.97 1039.95,513.69 1040.4,513.36 1041.3,515.6 1042.21,521.19 1045.82,555.7 1047.48,566.49 1048.23,568.97 1049.14,570.28 1053.36,570.5 1054.26,570.16 1055.02,568.97 1056.52,562.49 1060.89,522.38 1061.8,516.33 1062.55,513.69 1063,513.36 1063.45,514.01 1064.36,518.04 1068.73,558.16 1069.63,563.6 1070.08,564.96 1070.54,565.31 1071.29,563.6 1072.19,558.16 1075.66,524.89 1077.47,512.89 1078.37,509.93 1079.27,508.71 1083.49,508.5 1084.55,508.96 1085.3,510.29 1086.81,516.93 1091.18,556.96 1091.93,562.15 1092.69,564.96 1093.14,565.31 1093.59,564.62 1094.49,560.32 1098.71,521.19 1099.77,514.97 1100.22,513.69 1100.67,513.36 1101.58,515.6 1102.48,521.19 1106.1,555.7 1107.75,566.49 1108.51,568.97 1109.41,570.28 1113.48,570.5 1114.38,570.28 1114.99,569.58 1116.19,565.82 1120.41,534.18 1121.47,529.58 1121.92,528.59 1122.52,528.21"/>
<line x1="369.25" y1="76.5" x2="1122" y2="76.5" stroke="#0000ff" stroke-width="1" stroke-dasharray="3.4 2.975"/>
<line x1="369.25" y1="168.5" x2="1122" y2="168.5" stroke="#0000ff" stroke-width="1" stroke-dasharray="3.4 2.975"/>
<line x1="369.25" y1="261.5" x2="1122" y2="261.5" stroke="#0000ff" stroke-width="1" stroke-dasharray="3.4 2.975"/>
<line x1="369.25" y1="353.5" x2="1122" y2="353.5" stroke="#0000ff" stroke-width="1" stroke-dasharray="3.4 2.975"/>
<line x1="369.25" y1="446.5" x2="1122" y2="446.5" stroke="#0000ff" stroke-width="1" stroke-dasharray="3.4 2.975"/>
<line x1="369.25" y1="538.5" x2="1122" y2="538.5" stroke="#0000ff" stroke-width="1" stroke-dasharray="3.4 2.975"/></svg>
</body></html>
